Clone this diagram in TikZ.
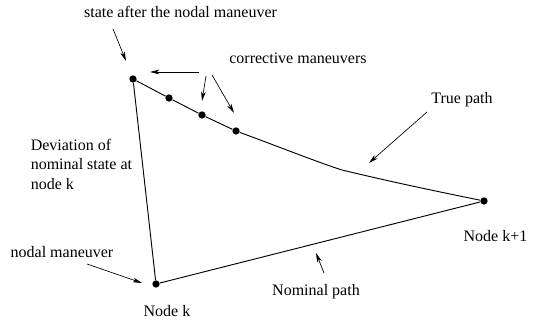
\documentclass[tikz,border=0pt]{standalone}
\usepackage{fontspec}
\setmainfont{Liberation Serif}
\usetikzlibrary{arrows.meta}

\tikzset{
    pathline/.style={line width=0.7pt},
    pointer/.style={-{Stealth[length=7pt, width=3.5pt, inset=2pt]}, line width=0.5pt},
    dot/.style={circle, fill=black, inner sep=0pt, minimum size=5.5pt},
    lbl/.style={inner sep=0pt}
}

\begin{document}
\begin{tikzpicture}[x=0.75pt, y=-0.75pt, font=\fontsize{12}{14.6}\selectfont]

    \useasboundingbox (0,0) rectangle (533,323);

    % 1. The nodes and the points of the true path
    \node[dot] (Nk)  at (156,284) {};
    \node[dot] (Nk1) at (484,201) {};
    \foreach \x/\y/\i in {133/79/0, 169/98/1, 202/115/2, 236/131/3} {
        \node[dot] (S\i) at (\x,\y) {};
    }

    % 2. Nominal path, deviation and true path
    \draw[pathline] (S0) -- (Nk) -- (Nk1);
    \draw[pathline] (S0) -- (S1) -- (S2) -- (S3)
        .. controls (290,151) and (320,163) .. (342,170)
        .. controls (400,184) and (450,194) .. (Nk1);

    % 3. Labels
    \node[lbl] (after)  at (180.5,12) {state after the nodal maneuver};
    \node[lbl] (corr)   at (298,58)   {corrective maneuvers};
    \node[lbl] (true)   at (462,100)  {True path};
    \node[lbl, anchor=west, align=left] (dev) at (30.5,164)
        {Deviation of\\nominal state at\\node k};
    \node[lbl] (nodal)  at (62,252)   {nodal maneuver};
    \node[lbl] (labk)   at (167,311)  {Node k};
    \node[lbl] (labk1)  at (495.5,236) {Node k+1};
    \node[lbl] (nom)    at (316,292)  {Nominal path};

    % 4. Pointers from the labels
    \coordinate (a0) at (113,29);   \coordinate (b0) at (126,61);
    \coordinate (a1) at (199,72);   \coordinate (b1) at (150,72);
    \coordinate (a2) at (206,76);   \coordinate (b2) at (202,101);
    \coordinate (a3) at (212,75);   \coordinate (b3) at (234,113);
    \coordinate (a4) at (427,112);  \coordinate (b4) at (369,163);
    \coordinate (a5) at (87,264);   \coordinate (b5) at (142,283);
    \coordinate (a6) at (324,273);  \coordinate (b6) at (316,253);
    \foreach \i in {0,...,6} {
        \draw[pointer] (a\i) -- (b\i);
    }

\end{tikzpicture}
\end{document}
